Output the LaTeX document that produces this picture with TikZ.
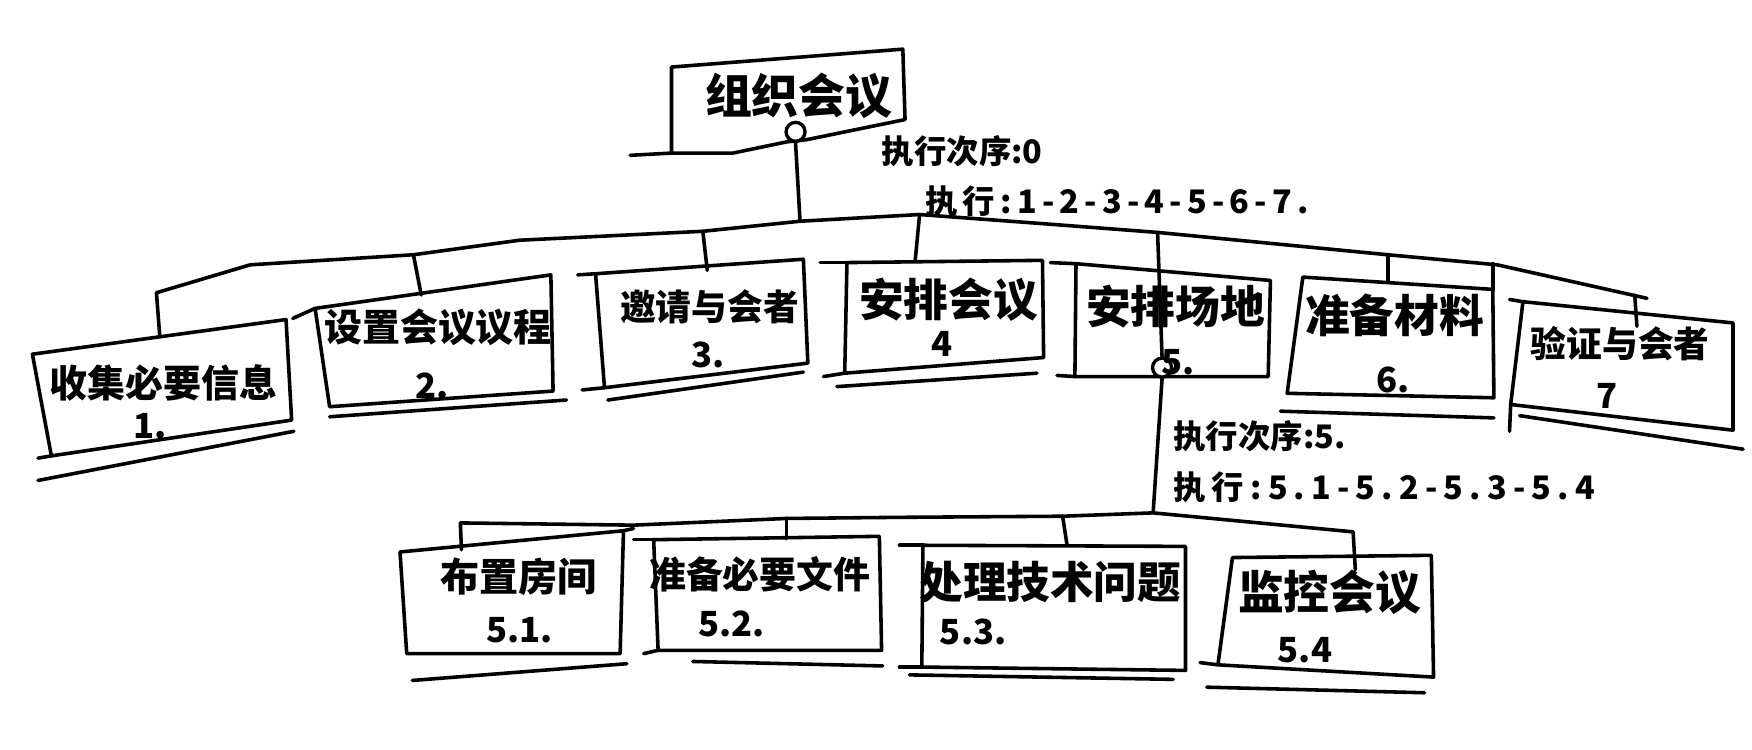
\documentclass[tikz,border=0pt]{standalone}
\usepackage{fontspec}
\newfontfamily\cjk{Noto Sans CJK SC}
\usetikzlibrary{calc}
\newcommand\fsz[1]{\fontsize{#1}{#1}\selectfont}
\begin{document}
\begin{tikzpicture}[x=1pt,y=-1pt,
  pen/.style={line width=3.2pt,line cap=round,line join=round},
  lbl/.style={font=\cjk\bfseries\fsz{34},inner sep=0pt},
  num/.style={font=\cjk\bfseries\fsz{31},inner sep=0pt},
  note/.style={font=\cjk\bfseries\fsz{29},inner sep=0pt,anchor=west},
  knot/.style={circle,draw,line width=3pt,fill=white,minimum size=17pt,inner sep=0pt}]
\useasboundingbox (0,0) rectangle (1568,671);
\fill[white] (0,0) rectangle (1568,671);

% ---------- root ----------
\draw[pen] (601,60) -- (808,44) -- (810,107) -- (722,125) -- (704,127) -- (656,137) -- (601,137) -- cycle;
\draw[pen] (564,139) -- (601,137);
\node[lbl,font=\cjk\bfseries\fsz{42}] (root) at (715,86) {组织会议};
\node[knot] (rk) at (712,118) {};
\node[note] (n0a) at (789,135) {执行次序:0};
\node[note,font=\cjk\bfseries\fsz{29}\addfontfeature{LetterSpace=16}] (n0b) at (828,180) {执行:1-2-3-4-5-6-7.};

% ---------- level-1 boxes ----------
\coordinate (p1a) at (29,317);   \coordinate (p1b) at (256,286);  \coordinate (p1c) at (261,376);  \coordinate (p1d) at (46,408);
\coordinate (p2a) at (282,276);  \coordinate (p2b) at (493,246);  \coordinate (p2c) at (495,350);  \coordinate (p2d) at (295,364);
\coordinate (p3a) at (533,245);  \coordinate (p3b) at (719,232);  \coordinate (p3c) at (723,325);  \coordinate (p3d) at (541,347);
\coordinate (p4a) at (758,235);  \coordinate (p4b) at (933,233);  \coordinate (p4c) at (934,320);  \coordinate (p4d) at (756,334);
\coordinate (p5a) at (963,236);  \coordinate (p5b) at (1137,251); \coordinate (p5c) at (1135,337); \coordinate (p5d) at (962,337);
\coordinate (p6a) at (1166,248); \coordinate (p6b) at (1336,259); \coordinate (p6c) at (1337,356); \coordinate (p6d) at (1152,352);
\coordinate (p7a) at (1363,270); \coordinate (p7b) at (1551,289); \coordinate (p7c) at (1551,385); \coordinate (p7d) at (1352,362);
\foreach \i in {1,...,7}{\draw[pen] (p\i a) -- (p\i b) -- (p\i c) -- (p\i d) -- cycle;}

% stray stroke ends of the hand drawing
\draw[pen] (34,410) -- (p1d);
\draw[pen] (262,285) -- (p2a);
\draw[pen] (517,246) -- (p3a);  \draw[pen] (521,349) -- (p3d);
\draw[pen] (734,235) -- (p4a);  \draw[pen] (737,337) -- (p4d);
\draw[pen] (940,235) -- (p5a);  \draw[pen] (946,336) -- (p5d);
\draw[pen] (1336,236) -- (p6b);
\draw[pen] (1351,268) -- (p7a);  \draw[pen] (p7d) -- (1351,386);

% underlines
\draw[pen] (34,430) -- (263,386);
\draw[pen] (295,373) -- (507,358);
\draw[pen] (544,358) -- (719,333);
\draw[pen] (749,346) -- (928,334);
\draw[pen] (1146,368) -- (1337,374);
\draw[pen] (1360,372) -- (1560,402);

% ---------- main bar ----------
\coordinate (j0) at (716,198);
\coordinate (b1) at (140,262); \coordinate (b2) at (370,228); \coordinate (b3) at (629,207);
\coordinate (b4) at (823,192); \coordinate (b5) at (1036,208); \coordinate (b6) at (1242,228);
\coordinate (b7) at (1463,264); \coordinate (bend) at (1474,267);
\draw[pen] (rk.south) -- (j0);
\draw[pen] (b1) -- (224,237) -- (b2) -- (465,215) -- (b3) -- (j0) -- (b4) -- (931,200) -- (b5) -- (b6) -- (1340,237) -- (bend);
\draw[pen] (b1) -- (143,301);
\draw[pen] (b2) -- (377,264);
\draw[pen] (b3) -- (633,242);
\draw[pen] (b4) -- (819,234);
\draw[pen] (b6) -- (1242,251);
\draw[pen] (b7) -- (1465,292);

% ---------- box 5 and its sub-tree ----------
\node[knot] (sk) at (1040,329) {};
\draw[pen] (b5) -- (sk.north);

\node[lbl] (l1) at (146,343) {收集必要信息};                   \node[num] (k1) at (134,381) {1.};
\node[lbl] (l2) at (392,293) {设置会议议程};                   \node[num] (k2) at (387,345) {2.};
\node[lbl,font=\cjk\bfseries\fsz{32}] (l3) at (635,275) {邀请与会者}; \node[num] (k3) at (634,318) {3.};
\node[lbl,font=\cjk\bfseries\fsz{40}] (l4) at (849,268) {安排会议};   \node[num] (k4) at (843,308) {4};
\node[lbl,font=\cjk\bfseries\fsz{40}] (l5) at (1052,274) {安排场地};  \node[num] (k5) at (1054,324) {5.};
\node[lbl,font=\cjk\bfseries\fsz{40}] (l6) at (1248,282) {准备材料};  \node[num] (k6) at (1247,340) {6.};
\node[lbl,font=\cjk\bfseries\fsz{32}] (l7) at (1450,308) {验证与会者}; \node[num] (k7) at (1438,354) {7};

\node[note] (n5a) at (1050,390) {执行次序:5.};
\node[note,font=\cjk\bfseries\fsz{29}\addfontfeature{LetterSpace=19}] (n5b) at (1050,436) {执行:5.1-5.2-5.3-5.4};

\coordinate (j5) at (1032,459);
\draw[pen] (sk.south) -- (j5);

\coordinate (q1a) at (358,494);  \coordinate (q1b) at (558,475);  \coordinate (q1c) at (555,585);  \coordinate (q1d) at (364,585);
\coordinate (q2a) at (585,483);  \coordinate (q2b) at (787,480);  \coordinate (q2c) at (789,582);  \coordinate (q2d) at (589,582);
\coordinate (q3a) at (826,488);  \coordinate (q3b) at (1061,489); \coordinate (q3c) at (1061,600); \coordinate (q3d) at (825,597);
\coordinate (q4a) at (1103,499); \coordinate (q4b) at (1281,497); \coordinate (q4c) at (1283,606); \coordinate (q4d) at (1090,595);
\foreach \i in {1,...,4}{\draw[pen] (q\i a) -- (q\i b) -- (q\i c) -- (q\i d) -- cycle;}
\draw[pen] (q1b) -- (567,473);
\draw[pen] (567,483) -- (q2a);  \draw[pen] (576,585) -- (q2d);
\draw[pen] (805,488) -- (q3a);  \draw[pen] (805,597) -- (q3d);
\draw[pen] (1074,593) -- (q4d);
\draw[pen] (369,609) -- (561,594);
\draw[pen] (620,592) -- (790,596);
\draw[pen] (814,604) -- (1050,608);
\draw[pen] (1080,615) -- (1275,620);

\coordinate (c1) at (412,468); \coordinate (c2) at (704,464); \coordinate (c3) at (951,462); \coordinate (c4) at (1211,476);
\draw[pen] (c1) -- (567,470) -- (c2) -- (805,463) -- (c3) -- (j5) -- (c4);
\draw[pen] (c1) -- (413,492);
\draw[pen] (c2) -- (704,482);
\draw[pen] (c3) -- (955,488);
\draw[pen] (c4) -- (1213,510);

\node[lbl,font=\cjk\bfseries\fsz{35}] (m1) at (464,516) {布置房间};     \node[num] (h1) at (465,564) {5.1.};
\node[lbl,font=\cjk\bfseries\fsz{33}] (m2) at (680,514) {准备必要文件}; \node[num] (h2) at (655,558) {5.2.};
\node[lbl,font=\cjk\bfseries\fsz{39}] (m3) at (940,521) {处理技术问题}; \node[num] (h3) at (871,566) {5.3.};
\node[lbl,font=\cjk\bfseries\fsz{41}] (m4) at (1190,530) {监控会议};     \node[num] (h4) at (1168,582) {5.4};
\end{tikzpicture}
\end{document}
